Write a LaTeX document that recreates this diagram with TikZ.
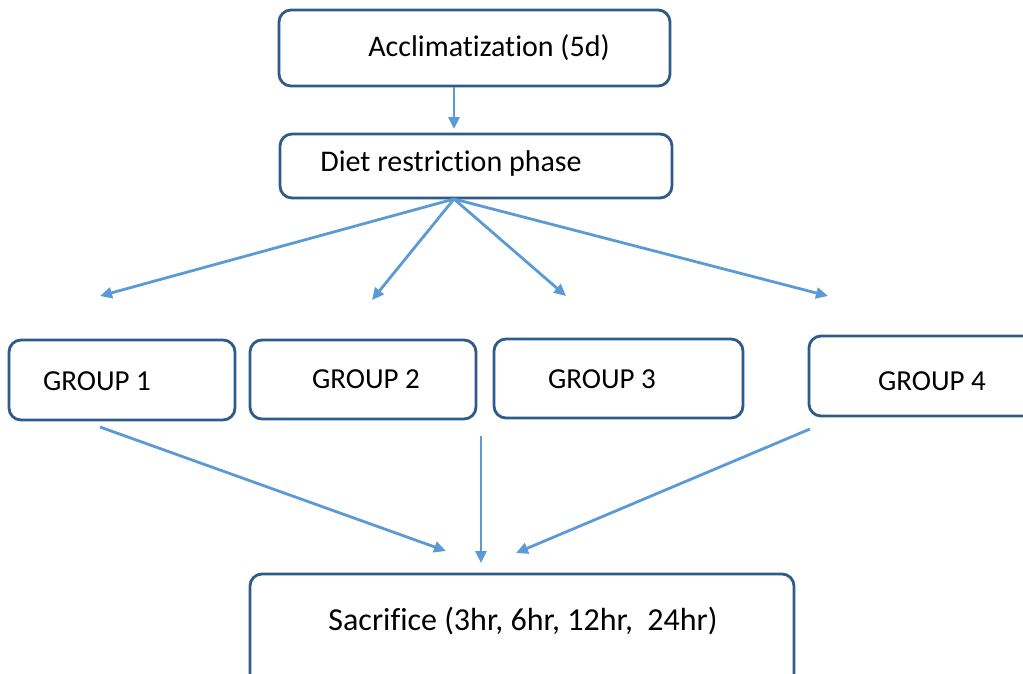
\documentclass[tikz,border=0pt]{standalone}
\usepackage{fontspec}
\setmainfont[Ligatures={NoCommon}]{Carlito}
\usetikzlibrary{arrows.meta}
\definecolor{boxc}{HTML}{2F5B8A}
\definecolor{arr}{HTML}{5B9BD5}
\begin{document}
\begin{tikzpicture}[x=1pt,y=-1pt,
  box/.style={draw=boxc,line width=2.8pt,rounded corners=12pt,inner sep=0pt,fill=white},
  lab/.style={font=\fontsize{29}{32}\selectfont,inner sep=0pt},
  biglab/.style={lab,font=\fontsize{30}{33}\selectfont},
  link/.style={draw=arr,line width=2.8pt,-{Triangle[length=12pt,width=11pt]}}]
\useasboundingbox (0,0) rectangle (1023,673);
\clip (0,0) rectangle (1023,673);
% boxes
\node[box,minimum width=391pt,minimum height=76pt] (acc) at (474.5,48) {};
\node[box,minimum width=392pt,minimum height=64pt] (diet) at (476,166) {};
\node[box,minimum width=226pt,minimum height=80pt] (g1) at (122,380) {};
\node[box,minimum width=226pt,minimum height=79pt] (g2) at (363,379.5) {};
\node[box,minimum width=249pt,minimum height=79pt] (g3) at (618.5,378.5) {};
\node[box,minimum width=231pt,minimum height=80pt] (g4) at (924.5,376) {};
\node[box,minimum width=544pt,minimum height=126pt] (sac) at (522,637) {};
% labels
\node[biglab] (accT) at (489,48) {Acclimatization (5d)};
\node[biglab] (dietT) at (451,163) {Diet restriction phase};
\node[lab] (g1T) at (97,381) {GROUP 1};
\node[lab] (g2T) at (366,379) {GROUP 2};
\node[lab] (g3T) at (602,379) {GROUP 3};
\node[lab] (g4T) at (932,381) {GROUP 4};
\node[lab,font=\fontsize{32}{35}\selectfont] (sacT) at (523,621) {Sacrifice (3hr, 6hr, 12hr,\ \ 24hr)};
% connector ends
\coordinate (accOut) at (acc.south -| 454,0);
\coordinate (dietIn) at (454,129);
\coordinate (dietOut) at (454,199);
\coordinate (t1) at (100,296);
\coordinate (t2) at (372,300);
\coordinate (t3) at (566,296);
\coordinate (t4) at (828,296);
\coordinate (s1) at (100,427);
\coordinate (s2) at (481,436);
\coordinate (s3) at (810,429);
\coordinate (e1) at (446,551);
\coordinate (e2) at (481,563);
\coordinate (e3) at (516,553);
% connectors
\draw[link] (accOut) -- (dietIn);
\draw[link] (dietOut) -- (t1);
\draw[link] (dietOut) -- (t2);
\draw[link] (dietOut) -- (t3);
\draw[link] (dietOut) -- (t4);
\draw[link] (s1) -- (e1);
\draw[link] (s2) -- (e2);
\draw[link] (s3) -- (e3);
\end{tikzpicture}
\end{document}
